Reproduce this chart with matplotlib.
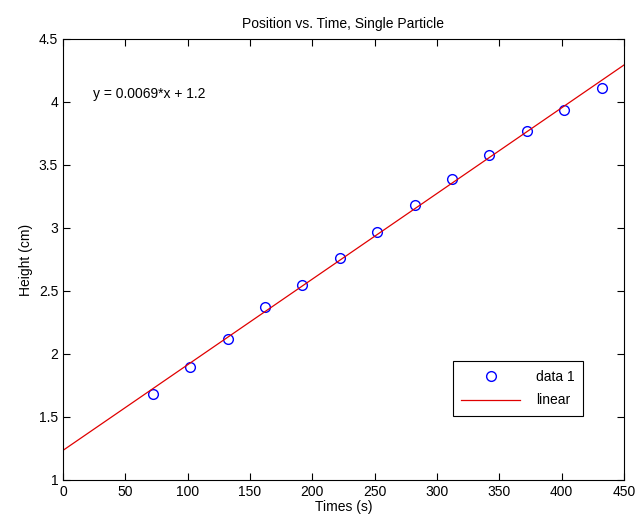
import numpy as np
import matplotlib
matplotlib.use("Agg")
import matplotlib.pyplot as plt

# data
times = [72, 102, 132, 162, 192, 222, 252, 282, 312, 342, 372, 402, 432]
heights = [1.68, 1.90, 2.12, 2.37, 2.55, 2.76, 2.97, 3.18, 3.39, 3.58, 3.77, 3.94, 4.11]
x_ticks = [0, 50, 100, 150, 200, 250, 300, 350, 400, 450]
y_ticks = [1, 1.5, 2, 2.5, 3, 3.5, 4, 4.5]

plt.rcParams['font.family'] = ['Liberation Sans', 'DejaVu Sans']
plt.rcParams['font.size'] = 9.5

fig = plt.figure(figsize=(6.39, 5.26), dpi=100)
ax = fig.add_axes([0.0986, 0.0875, 0.8779, 0.8384])

# linear fit
z = np.polyfit(times, heights, 1)
p = np.poly1d(z)
x_line = np.linspace(0, 450, 100)

ax.plot(times, heights, 'o', mfc='none', mec='#0000ff', ms=7, mew=1.0, label='data 1')
ax.plot(x_line, p(x_line), '-', color='#e00000', lw=0.9, label='linear')

ax.set_xlim(0, 450)
ax.set_ylim(1, 4.5)
ax.set_xticks(x_ticks)
ax.set_yticks(y_ticks)
ax.set_yticklabels([f"{v:g}" for v in y_ticks])
ax.tick_params(direction='in', top=True, right=True, length=5, width=0.8, labelsize=10)
for s in ax.spines.values():
    s.set_linewidth(0.8)

ax.set_title('Position vs. Time, Single Particle', fontsize=10, pad=8)
ax.set_xlabel('Times (s)', fontsize=10, labelpad=1)
ax.set_ylabel('Height (cm)', fontsize=10)

ax.text(24, 4.06, 'y = 0.0069*x + 1.2', fontsize=10, va='center')

leg = ax.legend(loc='lower right', bbox_to_anchor=(0.94, 0.13), fancybox=False,
                edgecolor='black', framealpha=1, fontsize=10, handlelength=4.2,
                handletextpad=1.2, borderpad=0.6, labelspacing=0.7)
leg.get_frame().set_linewidth(0.8)

plt.savefig('out.png', dpi=100)
